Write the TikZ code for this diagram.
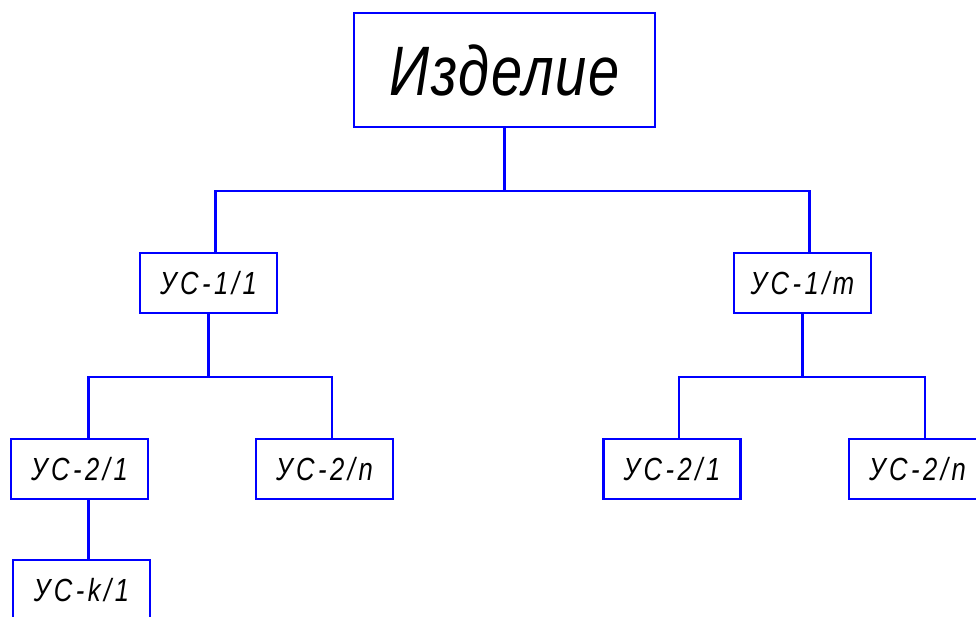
\documentclass[tikz,border=0pt]{standalone}
\usepackage{fontspec}
\newfontfamily\gostwide{Liberation Sans}[FakeStretch=0.8, LetterSpace=11]
\newfontfamily\gosttitle{Liberation Sans}[FakeStretch=0.8, LetterSpace=2.5]
\usetikzlibrary{calc}
\begin{document}
\begin{tikzpicture}[x=1pt,y=1pt,
  box/.style={draw=blue, line width=2.4pt, fill=white, inner sep=0pt,
              minimum width=137pt, minimum height=60pt,
              font=\gostwide\itshape\fontsize{32}{36}\selectfont},
  topbox/.style={box, minimum width=301pt, minimum height=114pt,
              font=\gosttitle\itshape\fontsize{70}{80}\selectfont},
  link/.style={draw=blue, line width=2.4pt}]
\useasboundingbox (0,0) rectangle (976,-617);
\clip (0,0) rectangle (976,-617);
\fill[white] (0,0) rectangle (976,-617);

% tree nodes
\node[topbox] (top) at (504.5,-70) {Изделие};
\node[box] (l1)  at (208.5,-283) {УС-1/1};
\node[box] (r1)  at (802.5,-283) {УС-1/m};
\node[box] (l2a) at (79.5,-469)  {УС-2/1};
\node[box] (l2b) at (324.5,-469) {УС-2/n};
\node[box] (r2a) at (672,-469)   {УС-2/1};
\node[box] (r2b) at (917.5,-469) {УС-2/n};
\node[box] (lk)  at (81.5,-590)  {УС-k/1};

% entry points on the tops of the child boxes
\coordinate (l1in)  at ($(l1.north)+(7,0)$);
\coordinate (r1in)  at ($(r1.north)+(7,0)$);
\coordinate (l2ain) at ($(l2a.north)+(9,0)$);
\coordinate (l2bin) at ($(l2b.north)+(7.5,0)$);
\coordinate (r2ain) at ($(r2a.north)+(7,0)$);
\coordinate (r2bin) at ($(r2b.north)+(7.5,0)$);
\coordinate (lkin)  at ($(l2a.south)+(9,0)$);

% buses
\coordinate (bus0) at (0,-191);
\coordinate (bus1) at (0,-377);

% connectors
\draw[link] (top.south) -- (top.south |- bus0);
\draw[link] (l1in) -- (l1in |- bus0) -- (r1in |- bus0) -- (r1in);
\draw[link] (l1.south) -- (l1.south |- bus1);
\draw[link] (l2ain) -- (l2ain |- bus1) -- (l2bin |- bus1) -- (l2bin);
\draw[link] (r1.south) -- (r1.south |- bus1);
\draw[link] (r2ain) -- (r2ain |- bus1) -- (r2bin |- bus1) -- (r2bin);
\draw[link] (lkin) -- (lkin |- lk.north);
\end{tikzpicture}
\end{document}
